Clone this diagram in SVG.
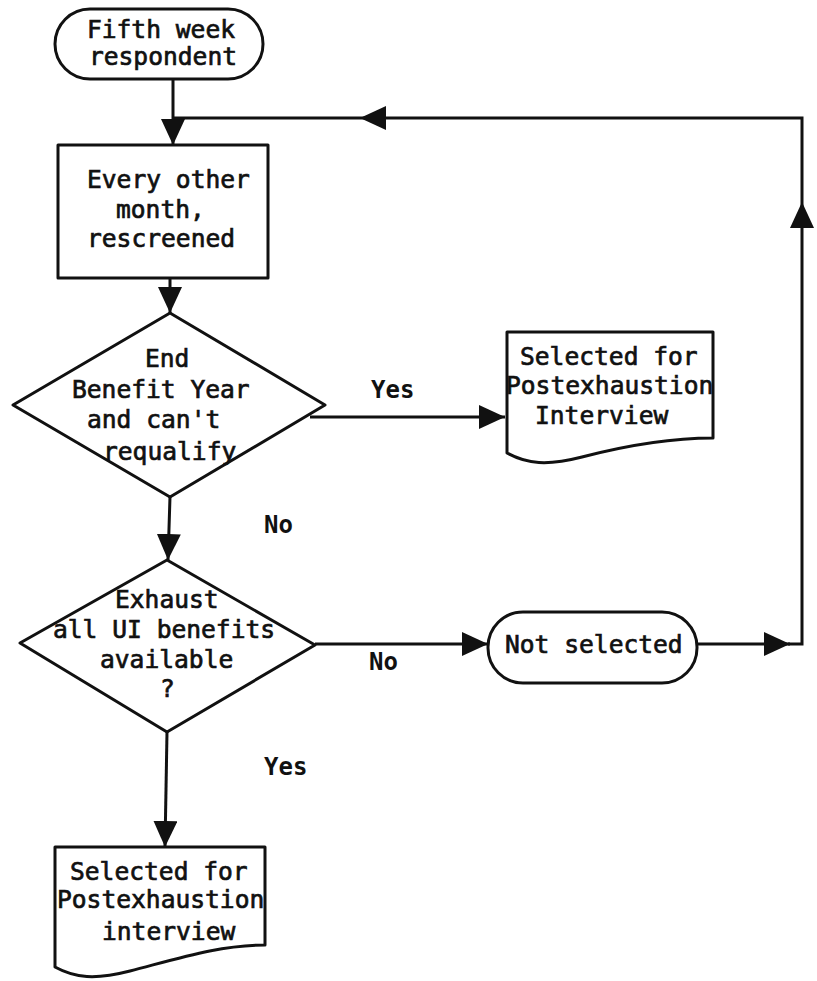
<svg xmlns="http://www.w3.org/2000/svg" width="817" height="981" viewBox="0 0 817 981">
  <defs>
    <marker id="arrow" markerUnits="userSpaceOnUse" markerWidth="28" markerHeight="24" refX="26" refY="12" orient="auto">
      <path d="M0,0 L26,12 L0,24 z" fill="#111"/>
    </marker>
    <style>
      .shape { fill: #fff; stroke: #111; stroke-width: 3; stroke-linejoin: round; }
      .line { fill: none; stroke: #111; stroke-width: 3; }
      .t { font-family: "DejaVu Sans Mono", "Liberation Mono", monospace; font-size: 24.6px; fill: #111; stroke: #111; stroke-width: 0.7px; }
      .lbl { font-family: "DejaVu Sans Mono", "Liberation Mono", monospace; font-size: 24px; font-weight: bold; fill: #111; }
    </style>
  </defs>

  <rect width="817" height="981" fill="#fff"/>

  <!-- connectors -->
  <g id="connectors">
    <path class="line" d="M173,79 L173,145" marker-end="url(#arrow)"/>
    <path class="line" d="M170,278 L170,313" marker-end="url(#arrow)"/>
    <path class="line" d="M310,417 L505,417" marker-end="url(#arrow)"/>
    <path class="line" d="M170,497 L168,560" marker-end="url(#arrow)"/>
    <path class="line" d="M315,644 L488,644" marker-end="url(#arrow)"/>
    <path class="line" d="M697,644 L790,644" marker-end="url(#arrow)"/>
    <path class="line" d="M788,644 L802,644 L802,202" marker-end="url(#arrow)"/>
    <path class="line" d="M802,202 L802,118 L360,118" marker-end="url(#arrow)"/>
    <path class="line" d="M360,118 L173,118"/>
    <path class="line" d="M167,732 L165,847" marker-end="url(#arrow)"/>
    <text class="lbl" x="371" y="398">Yes</text>
    <text class="lbl" x="264" y="533">No</text>
    <text class="lbl" x="369" y="670">No</text>
    <text class="lbl" x="264" y="775">Yes</text>
  </g>

  <!-- start terminal -->
  <g id="start">
    <rect class="shape" x="55" y="9" width="208" height="70" rx="35" ry="35"/>
    <text class="t" x="161" y="38" text-anchor="middle">Fifth week</text>
    <text class="t" x="163" y="65" text-anchor="middle">respondent</text>
  </g>

  <!-- rescreen step -->
  <g id="rescreen">
    <rect class="shape" x="58" y="145" width="210" height="133"/>
    <text class="t" x="87" y="188">Every other</text>
    <text class="t" x="116" y="218">month,</text>
    <text class="t" x="87" y="247">rescreened</text>
  </g>

  <!-- decision: end of benefit year -->
  <g id="end-benefit-year">
    <polygon class="shape" points="170,313 325,405 170,497 13,405"/>
    <text class="t" x="145" y="367">End</text>
    <text class="t" x="72" y="398">Benefit Year</text>
    <text class="t" x="87" y="428">and can't</text>
    <text class="t" x="103" y="460">requalify</text>
  </g>

  <!-- selected (right) -->
  <g id="selected-right">
    <path class="shape" d="M507,332 L713,332 L713,438 C672,438 632,444 582,457 C547,466 527,464 507,453 Z"/>
    <text class="t" x="520" y="365">Selected for</text>
    <text class="t" x="506" y="394">Postexhaustion</text>
    <text class="t" x="535" y="424">Interview</text>
  </g>

  <!-- decision: exhaust benefits -->
  <g id="exhaust-benefits">
    <polygon class="shape" points="167,560 315,645 167,732 20,643"/>
    <text class="t" x="115" y="608">Exhaust</text>
    <text class="t" x="53" y="638">all UI benefits</text>
    <text class="t" x="100" y="668">available</text>
    <text class="t" x="160" y="697">?</text>
  </g>

  <!-- not selected terminal -->
  <g id="not-selected">
    <rect class="shape" x="488" y="612" width="209" height="71" rx="35" ry="35"/>
    <text class="t" x="505" y="653">Not selected</text>
  </g>

  <!-- selected (bottom) -->
  <g id="selected-bottom">
    <path class="shape" d="M55,847 L265,847 L265,945 C220,945 180,958 130,971 C95,980 75,978 55,967 Z"/>
    <text class="t" x="70" y="880">Selected for</text>
    <text class="t" x="57" y="908">Postexhaustion</text>
    <text class="t" x="102" y="940">interview</text>
  </g>
</svg>
